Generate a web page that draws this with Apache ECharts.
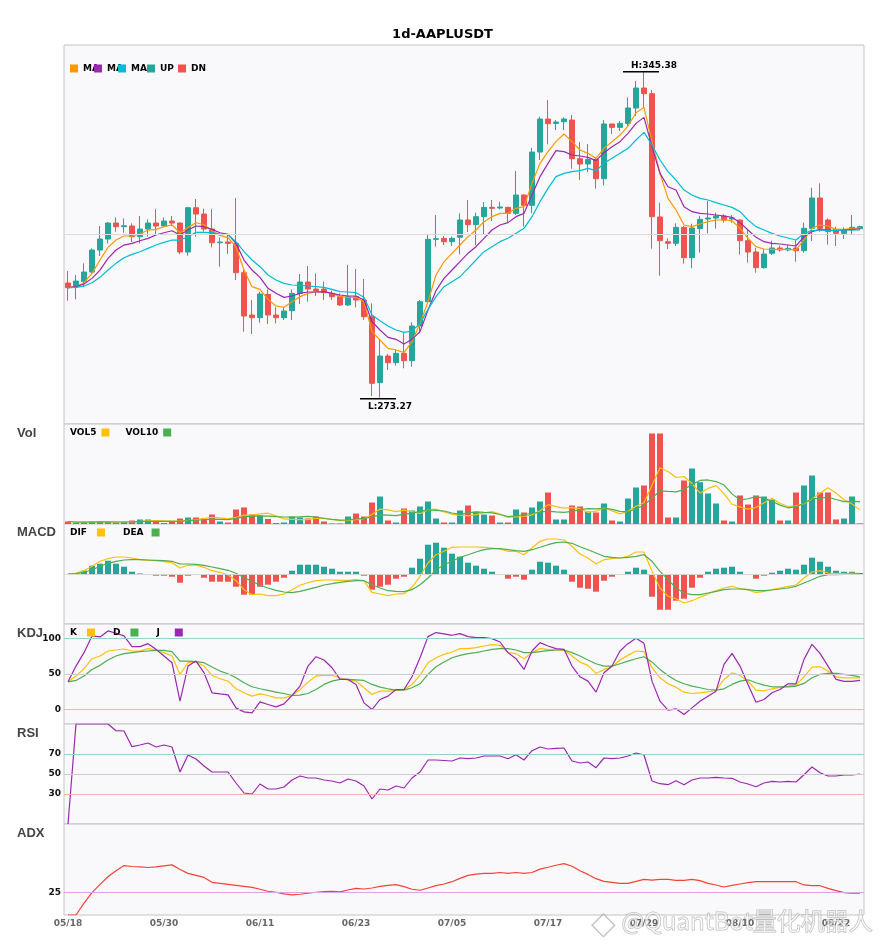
<!DOCTYPE html>
<html>
<head>
<meta charset="utf-8">
<title>1d-AAPLUSDT</title>
<script src="https://cdn.jsdelivr.net/npm/echarts@6/dist/echarts.min.js"></script>
<style>
  html, body { margin: 0; padding: 0; background: #fff; }
  #main { width: 885px; height: 950px; }
</style>
</head>
<body>
<div id="main"></div>
<script>
// daily candles 05/18 - 08/25
var dates = [
  '05/18','05/19','05/20','05/21','05/22','05/23','05/24','05/25','05/26','05/27','05/28','05/29','05/30','05/31',
  '06/01','06/02','06/03','06/04','06/05','06/06','06/07','06/08','06/09','06/10','06/11','06/12','06/13','06/14','06/15',
  '06/16','06/17','06/18','06/19','06/20','06/21','06/22','06/23','06/24','06/25','06/26','06/27','06/28','06/29','06/30',
  '07/01','07/02','07/03','07/04','07/05','07/06','07/07','07/08','07/09','07/10','07/11','07/12','07/13','07/14','07/15',
  '07/16','07/17','07/18','07/19','07/20','07/21','07/22','07/23','07/24','07/25','07/26','07/27','07/28','07/29','07/30','07/31',
  '08/01','08/02','08/03','08/04','08/05','08/06','08/07','08/08','08/09','08/10','08/11','08/12','08/13','08/14','08/15',
  '08/16','08/17','08/18','08/19','08/20','08/21','08/22','08/23','08/24','08/25'
];
var opens = [
  298.64, 297.83, 299.01, 301.07, 305.94, 308.37, 311.91, 311.10, 311.25, 308.89,
  310.58, 311.91, 311.25, 312.35, 311.91, 305.50, 315.30, 313.90, 310.58, 307.56,
  307.71, 307.41, 300.93, 291.56, 290.97, 296.13, 291.56, 290.97, 292.52, 296.36,
  298.86, 297.31, 297.31, 296.36, 295.62, 293.78, 295.62, 294.88, 291.19, 276.60,
  282.49, 281.02, 283.08, 281.46, 289.13, 294.51, 308.30, 308.52, 307.78, 308.75,
  312.58, 311.55, 313.32, 315.38, 315.24, 315.38, 314.06, 318.11, 315.83, 327.62,
  334.92, 333.96, 334.33, 334.70, 326.15, 324.97, 326.00, 321.72, 333.82, 333.08,
  333.96, 337.36, 341.78, 340.53, 313.25, 307.79, 307.42, 310.96, 304.25, 310.66,
  312.80, 313.03, 313.47, 312.80, 312.58, 308.01, 305.50, 302.04, 305.21, 306.39,
  305.95, 306.39, 305.80, 310.74, 317.45, 312.58, 310.52, 309.63, 310.37, 310.66
];
var closes = [
  297.61, 299.08, 301.07, 305.94, 308.37, 311.91, 311.10, 311.32, 308.89, 310.58,
  311.91, 311.25, 312.35, 311.91, 305.50, 315.30, 313.90, 310.58, 307.56, 307.71,
  307.41, 300.93, 291.34, 290.97, 296.21, 291.56, 290.97, 292.45, 296.36, 298.86,
  297.31, 296.95, 296.50, 295.62, 293.78, 295.62, 294.88, 291.19, 276.45, 282.49,
  281.02, 283.08, 281.46, 289.13, 294.51, 308.30, 308.45, 307.78, 308.52, 312.58,
  311.55, 313.32, 315.38, 315.16, 315.46, 314.06, 318.11, 315.83, 327.62, 334.92,
  333.89, 334.26, 334.92, 326.15, 324.97, 326.00, 321.72, 333.82, 333.08, 333.96,
  337.36, 341.78, 340.53, 313.32, 308.01, 307.42, 310.96, 304.25, 310.81, 312.73,
  313.03, 313.47, 312.58, 313.03, 308.01, 305.50, 302.04, 305.06, 306.39, 305.95,
  306.32, 305.80, 310.74, 317.45, 310.74, 310.00, 309.63, 310.37, 310.96, 311.11
];
var lows = [
  294.73, 295.03, 297.83, 300.78, 304.61, 307.41, 309.99, 309.77, 307.71, 307.41,
  308.89, 309.26, 311.10, 311.25, 305.05, 304.69, 308.89, 309.99, 306.53, 302.25,
  305.05, 299.30, 287.88, 287.36, 289.86, 289.57, 289.72, 290.46, 290.46, 293.99,
  294.51, 295.77, 294.88, 294.88, 293.55, 293.55, 293.26, 290.46, 273.65, 273.27,
  279.40, 280.36, 279.77, 280.14, 287.51, 294.51, 306.68, 307.05, 306.83, 304.99,
  309.93, 306.98, 309.49, 312.36, 314.94, 312.00, 313.69, 311.11, 314.06, 325.85,
  329.32, 332.49, 332.49, 323.94, 321.43, 323.20, 319.51, 320.25, 331.60, 332.27,
  333.37, 335.59, 337.50, 306.24, 300.27, 306.17, 306.83, 302.92, 301.89, 305.36,
  309.63, 310.66, 312.00, 312.00, 304.91, 303.15, 300.93, 301.82, 304.84, 305.58,
  305.65, 303.37, 305.36, 307.94, 310.00, 307.13, 306.83, 308.38, 309.26, 310.52
];
var highs = [
  301.29, 300.41, 302.99, 306.31, 311.25, 312.13, 313.16, 312.94, 311.84, 313.46,
  312.72, 315.01, 313.16, 313.46, 312.06, 315.52, 317.22, 315.08, 315.01, 308.74,
  309.33, 317.44, 301.52, 294.88, 296.72, 297.24, 293.26, 293.26, 297.24, 300.63,
  302.40, 300.78, 298.94, 296.95, 296.36, 302.62, 301.74, 299.53, 294.14, 286.03,
  282.94, 283.97, 287.73, 289.94, 294.88, 309.26, 313.68, 309.04, 308.89, 314.06,
  317.01, 314.21, 316.56, 317.01, 316.64, 315.53, 323.42, 318.26, 328.51, 335.44,
  339.13, 334.70, 335.29, 335.81, 329.83, 329.39, 326.37, 334.70, 333.82, 334.48,
  339.71, 343.33, 345.38, 341.34, 316.42, 308.53, 311.85, 311.25, 311.77, 313.54,
  316.79, 314.21, 313.84, 313.69, 312.73, 310.37, 306.46, 306.09, 308.01, 306.90,
  307.13, 308.16, 311.99, 319.74, 320.69, 312.95, 311.11, 310.96, 313.69, 311.33
];
var ma5 = [
  297.61, 297.83, 298.71, 300.78, 303.73, 306.53, 308.15, 309.04, 309.04, 309.48,
  310.36, 310.51, 311.10, 311.47, 309.77, 310.95, 311.98, 311.54, 310.21, 309.18,
  308.67, 306.68, 301.51, 297.83, 297.24, 295.03, 293.55, 293.26, 294.51, 295.62,
  296.36, 296.72, 296.65, 296.36, 295.62, 295.47, 295.47, 294.51, 287.88, 286.03,
  284.19, 283.82, 283.23, 285.67, 289.72, 294.51, 300.41, 303.36, 305.20, 307.05,
  308.89, 310.37, 312.21, 313.32, 314.06, 314.06, 315.16, 315.53, 320.69, 325.12,
  327.70, 329.91, 331.60, 329.91, 328.07, 327.33, 326.22, 328.43, 329.91, 331.38,
  333.37, 336.32, 337.50, 329.91, 322.90, 317.37, 314.79, 311.48, 311.11, 311.70,
  312.21, 312.58, 312.58, 312.43, 310.74, 308.53, 306.68, 306.17, 306.09, 306.09,
  306.09, 305.95, 308.16, 310.74, 311.48, 311.26, 310.52, 310.52, 310.67, 310.81
];
var ma10 = [
  297.61, 297.83, 298.42, 299.67, 301.51, 304.09, 305.94, 307.04, 307.41, 308.00,
  308.52, 309.26, 309.77, 310.21, 309.26, 310.36, 311.25, 311.10, 310.51, 309.77,
  309.40, 307.41, 303.73, 301.51, 299.89, 297.46, 296.36, 295.47, 295.77, 296.36,
  296.65, 296.65, 296.72, 296.36, 295.99, 295.77, 295.77, 294.88, 290.09, 288.25,
  286.62, 286.18, 285.15, 286.18, 287.88, 292.67, 296.95, 299.67, 301.52, 303.37,
  305.21, 306.68, 308.53, 310.37, 311.48, 312.00, 313.32, 314.06, 318.11, 322.17,
  325.12, 327.92, 327.70, 326.96, 326.74, 326.44, 325.71, 327.48, 328.80, 329.91,
  331.75, 333.96, 335.29, 328.80, 322.90, 319.95, 319.22, 315.53, 314.43, 314.06,
  313.91, 313.69, 313.47, 313.17, 312.00, 310.37, 308.75, 307.79, 307.42, 307.27,
  307.05, 306.83, 308.89, 310.00, 310.52, 310.37, 310.22, 310.37, 310.52, 310.59
];
var ma20 = [
  297.61, 297.68, 297.97, 298.71, 299.89, 301.51, 302.99, 304.24, 304.98, 305.57,
  306.31, 307.04, 307.63, 308.15, 308.15, 308.89, 309.85, 309.85, 309.77, 309.48,
  309.33, 307.78, 305.57, 303.73, 302.25, 300.41, 299.30, 298.57, 298.20, 298.13,
  297.98, 297.83, 297.68, 297.24, 296.72, 296.65, 296.50, 295.47, 291.56, 290.31,
  289.13, 288.25, 287.73, 288.02, 289.72, 292.82, 295.62, 297.83, 298.94, 300.05,
  301.89, 303.73, 305.58, 306.68, 307.79, 308.53, 309.63, 310.74, 313.32, 316.64,
  319.59, 322.17, 322.90, 323.27, 323.49, 324.01, 323.49, 325.12, 326.22, 327.33,
  328.43, 330.28, 331.97, 329.17, 325.85, 323.27, 321.43, 319.22, 318.11, 317.37,
  317.01, 316.42, 315.90, 315.38, 314.43, 312.58, 311.11, 310.37, 309.63, 309.04,
  308.60, 308.16, 309.63, 310.22, 310.37, 310.22, 310.22, 310.37, 310.37, 310.37
];
var volumes = [
  2.5, 1.5, 1.5, 2.5, 2.5, 2, 1.5, 2, 3.5, 4.5,
  4.5, 2.5, 1, 2.5, 5.5, 6.5, 6.5, 5.5, 9.5, 2.5,
  1.5, 14.5, 16.5, 9.5, 8.5, 5, 1, 1.5, 7.5, 6.5,
  5.5, 7.5, 2.5, 0.5, 0.5, 7.5, 10.5, 7.5, 21.5, 27.5,
  3.5, 1.5, 15.5, 13.5, 17.5, 22.5, 5.5, 1.5, 1.5, 13.5,
  18.5, 12.2, 9.5, 8.5, 1.5, 1.5, 14.5, 11.5, 16.5, 22.5,
  31.5, 4.5, 4.5, 18.5, 17.5, 12.5, 11.5, 20.5, 3.5, 2.5,
  25.5, 36.5, 38.5, 90.5, 90.5, 6.5, 6.5, 43.5, 55.5, 41.8,
  30.5, 20.5, 3.5, 2.5, 28.5, 19.5, 28.5, 27.5, 24.5, 3.5,
  3.5, 31.5, 38.5, 48.5, 31.5, 31.5, 4.5, 5.5, 27.5, 0.5
];
var vol5 = [
  2.5, 2.0, 1.83, 2.0, 2.1, 2.0, 2.0, 2.1, 2.3, 2.7,
  3.2, 3.4, 3.2, 3.0, 3.2, 3.6, 4.4, 5.3, 6.7, 6.1,
  5.1, 6.7, 8.9, 8.9, 10.1, 10.8, 8.1, 5.1, 4.7, 4.3,
  4.4, 5.7, 5.9, 4.5, 3.3, 3.7, 4.3, 5.3, 9.5, 14.9,
  14.1, 12.3, 13.9, 12.3, 10.3, 14.1, 14.9, 12.1, 9.7, 8.9,
  8.1, 9.44, 11.04, 12.44, 10.04, 6.64, 7.1, 7.5, 9.1, 13.3,
  19.3, 17.3, 15.9, 16.3, 15.3, 11.5, 12.9, 16.1, 13.1, 10.1,
  12.7, 17.7, 21.3, 38.7, 56.3, 52.5, 46.5, 47.5, 40.5, 30.76,
  35.56, 38.36, 30.36, 19.76, 17.1, 14.9, 16.5, 21.3, 25.7, 20.7,
  17.5, 18.1, 20.3, 25.1, 30.7, 36.3, 30.9, 24.3, 20.1, 13.9
];
var vol10 = [
  2.5, 2.0, 1.83, 2.0, 2.1, 2.08, 2.0, 2.0, 2.17, 2.4,
  2.6, 2.7, 2.65, 2.65, 2.95, 3.4, 3.9, 4.25, 4.85, 4.65,
  4.35, 5.55, 7.1, 7.8, 8.1, 7.95, 7.4, 7.0, 6.8, 7.2,
  7.6, 6.9, 5.5, 4.6, 3.8, 4.05, 5.0, 5.6, 7.0, 9.1,
  8.9, 8.3, 9.6, 10.9, 12.6, 14.1, 13.6, 13.0, 11.0, 9.6,
  11.1, 12.17, 11.57, 11.07, 9.47, 7.37, 8.27, 9.27, 10.77, 11.67,
  12.97, 12.2, 11.7, 12.7, 14.3, 15.4, 15.1, 16.0, 14.7, 12.7,
  12.1, 15.3, 18.7, 25.9, 33.2, 32.6, 32.1, 34.4, 39.6, 43.53,
  44.03, 42.43, 38.93, 30.13, 23.93, 25.23, 27.43, 25.83, 22.73, 18.9,
  16.2, 17.3, 20.8, 25.4, 25.7, 26.9, 24.5, 22.3, 22.6, 22.3
];
var dif = [
  0, 0.10, 0.33, 0.77, 1.27, 1.53, 1.70, 1.70, 1.60, 1.43,
  1.37, 1.33, 1.23, 1.13, 0.60, 0.87, 0.90, 0.67, 0.33, 0.17,
  -0.07, -0.67, -1.57, -2.07, -2.00, -2.17, -2.17, -2.00, -1.57, -1.13,
  -0.87, -0.67, -0.60, -0.60, -0.63, -0.63, -0.57, -0.67, -1.83, -2.00,
  -2.17, -2.00, -1.97, -1.33, -0.23, 1.10, 1.93, 2.27, 2.67, 2.70,
  2.70, 2.70, 2.67, 2.60, 2.50, 2.27, 2.27, 1.93, 2.60, 3.27,
  3.50, 3.50, 3.40, 2.77, 2.00, 1.60, 1.00, 1.43, 1.53, 1.60,
  1.77, 2.20, 2.20, 0.27, -1.40, -2.23, -2.47, -2.90, -2.67, -2.33,
  -2.00, -1.67, -1.40, -1.23, -1.47, -1.57, -1.87, -1.73, -1.57, -1.40,
  -1.23, -1.10, -0.40, 0.20, 0.33, 0.10, 0.03, 0.03, 0.07, 0.07
];
var dea = [
  0, 0.03, 0.17, 0.43, 0.77, 1.07, 1.27, 1.40, 1.43, 1.43,
  1.40, 1.37, 1.33, 1.27, 1.00, 1.00, 0.97, 0.87, 0.70, 0.53,
  0.37, 0.07, -0.37, -0.73, -1.13, -1.40, -1.63, -1.80, -1.87, -1.73,
  -1.53, -1.33, -1.10, -0.97, -0.83, -0.73, -0.67, -0.67, -1.07, -1.40,
  -1.67, -1.73, -1.77, -1.57, -1.07, -0.40, 0.40, 0.93, 1.27, 1.67,
  1.93, 2.20, 2.43, 2.53, 2.53, 2.43, 2.33, 2.27, 2.43, 2.67,
  2.93, 3.13, 3.20, 3.07, 2.73, 2.43, 2.10, 1.77, 1.67, 1.60,
  1.67, 1.77, 1.93, 1.27, 0.27, -0.57, -1.40, -1.90, -2.07, -2.07,
  -1.90, -1.73, -1.57, -1.50, -1.50, -1.57, -1.67, -1.67, -1.60, -1.50,
  -1.40, -1.23, -0.90, -0.57, -0.23, -0.07, -0.07, -0.03, 0.00, 0.03
];
var macdHist = [
  0, 0, 0.33, 0.83, 1.03, 1.33, 1.03, 0.73, 0.23, 0.05,
  -0.05, -0.17, -0.17, -0.27, -0.87, -0.17, -0.07, -0.37, -0.77, -0.77,
  -0.77, -1.27, -2.07, -2.07, -1.27, -1.07, -0.77, -0.37, 0.33, 0.93,
  0.93, 0.93, 0.73, 0.53, 0.23, 0.23, 0.23, -0.17, -1.57, -1.27,
  -1.07, -0.47, -0.27, 0.63, 1.53, 2.93, 3.13, 2.63, 2.03, 1.73,
  1.13, 0.83, 0.53, 0.23, -0.07, -0.47, -0.27, -0.57, 0.43, 1.23,
  1.13, 0.83, 0.43, -0.77, -1.37, -1.47, -1.77, -0.67, -0.27, -0.07,
  0.23, 0.63, 0.43, -2.27, -3.57, -3.57, -2.67, -2.47, -1.37, -0.37,
  0.23, 0.53, 0.63, 0.73, 0.23, -0.07, -0.47, -0.17, 0.13, 0.33,
  0.53, 0.43, 0.93, 1.63, 1.23, 0.73, 0.33, 0.23, 0.23, 0.10
];
var kLine = [
  39.1, 47.1, 57.4, 71.4, 75.2, 82.2, 83.6, 85.0, 82.2, 82.2,
  85.5, 83.6, 79.9, 75.2, 49.4, 65.8, 66.7, 61.1, 48.0, 43.3,
  40.0, 29.3, 23.7, 19.0, 22.2, 19.9, 16.6, 16.6, 19.9, 28.3,
  38.6, 47.1, 48.5, 48.0, 44.7, 41.5, 40.0, 30.7, 21.3, 26.0,
  26.0, 26.9, 28.3, 35.4, 48.0, 65.8, 72.8, 77.5, 80.8, 85.5,
  85.5, 86.9, 89.2, 91.1, 90.2, 79.9, 78.5, 71.4, 79.9, 85.5,
  84.5, 83.6, 83.6, 75.2, 66.7, 62.1, 50.8, 56.4, 60.2, 69.6,
  76.1, 82.2, 81.3, 58.8, 44.7, 36.3, 31.6, 24.6, 22.7, 23.7,
  25.1, 26.9, 42.4, 51.8, 48.0, 40.0, 27.4, 26.5, 29.3, 31.1,
  33.0, 34.4, 46.1, 59.7, 60.2, 54.1, 46.1, 44.7, 44.7, 44.7
];
var dLine = [
  39.1, 41.0, 47.1, 56.4, 62.1, 69.6, 75.2, 78.5, 79.9, 81.3,
  82.2, 83.1, 83.1, 81.3, 68.1, 68.1, 67.2, 65.8, 59.7, 54.1,
  50.4, 44.7, 37.7, 32.1, 29.3, 27.0, 24.6, 22.7, 19.9, 20.4,
  22.7, 28.3, 35.4, 40.0, 42.4, 42.4, 41.9, 41.0, 35.4, 31.6,
  29.3, 27.4, 27.4, 30.7, 36.3, 49.5, 60.2, 66.7, 72.8, 76.1,
  78.5, 79.9, 82.2, 84.5, 85.5, 85.5, 83.6, 79.9, 79.9, 81.3,
  82.7, 83.6, 83.6, 79.9, 75.2, 69.6, 64.4, 61.1, 61.1, 64.4,
  68.1, 71.4, 74.2, 66.7, 56.4, 48.0, 41.0, 36.3, 33.0, 30.7,
  28.3, 27.4, 29.3, 35.4, 40.0, 41.9, 37.7, 34.4, 32.1, 32.1,
  32.1, 33.0, 36.8, 44.7, 49.4, 50.8, 50.8, 49.4, 48.0, 46.1
];
var jLine = [
  39.1, 61.1, 79.9, 103.3, 101.9, 110.3, 107.0, 103.3, 88.3, 88.3,
  92.5, 84.5, 75.2, 65.8, 11.9, 61.1, 68.1, 51.8, 23.7, 22.2,
  20.8, 2.6, -3.0, -4.4, 11.0, 7.3, 4.0, 8.2, 19.9, 33.0,
  61.1, 74.2, 69.6, 58.8, 42.4, 42.4, 35.4, 9.6, 0.2, 14.3,
  19.0, 28.3, 28.3, 46.1, 72.8, 102.3, 108.0, 106.1, 104.2, 106.6,
  102.3, 100.9, 100.9, 99.5, 94.8, 79.9, 71.4, 56.4, 82.2, 93.9,
  89.2, 85.5, 84.5, 61.1, 46.1, 40.0, 24.6, 51.8, 61.1, 82.2,
  92.5, 100.0, 93.0, 40.0, 11.9, -0.7, 1.2, -6.8, 2.6, 11.9,
  19.0, 26.0, 63.5, 78.9, 61.1, 35.4, 10.5, 14.3, 23.7, 28.3,
  36.3, 36.3, 70.5, 91.6, 78.9, 61.1, 42.4, 39.6, 39.6, 41.0
];
var rsi = [
  0, 100, 100, 100, 100, 100, 93.3, 93.0, 77.3, 79.0,
  81.0, 77.0, 79.0, 77.0, 52.0, 69.0, 65.0, 58.0, 52.0, 52.0,
  52.0, 41.0, 31.0, 30.0, 40.0, 35.0, 35.0, 37.0, 44.0, 48.0,
  46.0, 46.0, 44.0, 43.0, 41.0, 45.0, 43.0, 38.0, 25.0, 35.0,
  34.0, 38.0, 36.0, 46.0, 52.0, 64.0, 64.0, 63.5, 63.0, 66.0,
  65.3, 66.0, 68.0, 68.0, 68.0, 65.3, 69.3, 64.0, 73.3, 77.0,
  75.0, 75.7, 76.0, 63.0, 61.0, 62.0, 56.3, 66.0, 65.3, 66.0,
  68.0, 71.0, 69.0, 43.0, 40.3, 39.3, 43.3, 39.3, 44.0, 46.0,
  46.0, 46.7, 46.0, 45.7, 42.0, 40.0, 37.3, 41.0, 42.7, 42.0,
  42.7, 42.0, 49.3, 57.0, 51.3, 48.0, 48.0, 49.0, 49.0, 50.0
];
var adx = [
  0, 0, 13.0, 24.6, 33.7, 42.0, 48.6, 54.3, 53.3, 52.9,
  52.2, 52.9, 54.0, 55.1, 50.0, 45.7, 43.5, 41.3, 35.9, 34.8,
  33.7, 32.6, 31.5, 30.4, 28.3, 26.1, 25.0, 23.2, 22.1, 22.8,
  23.9, 25.0, 25.7, 26.1, 25.4, 27.5, 29.3, 28.6, 29.7, 31.5,
  32.6, 33.3, 31.2, 28.3, 27.2, 29.7, 32.2, 34.1, 36.6, 40.2,
  43.5, 44.9, 45.7, 45.7, 46.7, 45.7, 46.7, 45.7, 46.7, 50.4,
  52.5, 54.7, 56.5, 53.6, 48.6, 44.6, 39.9, 37.0, 35.9, 34.8,
  34.8, 37.0, 39.1, 38.4, 39.1, 39.1, 38.0, 38.0, 39.1, 37.7,
  34.8, 33.0, 30.8, 32.6, 34.1, 35.5, 36.6, 36.6, 36.6, 36.6,
  36.6, 36.6, 33.0, 32.2, 32.2, 29.3, 26.8, 24.6, 23.9, 23.9
];

var UP = '#26A69A', DN = '#EF5350';
var C_MA5 = '#FF9800', C_MA10 = '#9C27B0', C_MA20 = '#00BCD4';
var C_YEL = '#FFC107', C_GRN = '#4CAF50', C_PUR = '#9C27B0';
var priceMin = 267.45, priceMax = 351.3;

var candles = dates.map(function (d, i) {
    return [opens[i], closes[i], lows[i], highs[i]];
});

var myChart = echarts.init(document.getElementById('main'));

var panelTops = [45, 424, 524, 624, 724, 824];
var panelHeights = [379, 100, 100, 100, 100, 91];
var grids = panelTops.map(function (t, i) {
    return {
        left: 64, right: 21, top: t, height: panelHeights[i],
        show: true, backgroundColor: '#f9f9fb',
        borderColor: '#c4c4c8', borderWidth: 1
    };
});
var xAxes = panelTops.map(function (t, i) {
    var last = i === panelTops.length - 1;
    return {
        type: 'category', gridIndex: i, data: dates, boundaryGap: true,
        axisLine: {show: false}, axisTick: {show: false}, splitLine: {show: false},
        axisLabel: last ? {
            show: true, interval: 11, fontSize: 9, fontWeight: 'bold',
            color: '#666', margin: 4, fontFamily: 'DejaVu Sans'
        } : {show: false}
    };
});

function levelAxis(idx, min, max, interval, shown) {
    return {
        type: 'value', gridIndex: idx, min: min, max: max, interval: interval,
        axisLine: {show: false}, axisTick: {show: false}, splitLine: {show: false},
        axisLabel: {
            fontSize: 9, fontWeight: 'bold', color: '#111', margin: 3,
            fontFamily: 'DejaVu Sans',
            formatter: function (v) { return shown.indexOf(v) >= 0 ? String(v) : ''; }
        }
    };
}
var yAxes = [
    {type: 'value', gridIndex: 0, min: priceMin, max: priceMax, show: false},
    {type: 'value', gridIndex: 1, min: 0, max: 100, show: false},
    {type: 'value', gridIndex: 2, min: -5, max: 5, show: false},
    levelAxis(3, -20, 120, 10, [0, 50, 100]),
    levelAxis(4, 0, 100, 10, [30, 50, 70]),
    levelAxis(5, 0, 100, 25, [25])
];

function line(name, data, color, xi) {
    return {
        name: name, type: 'line', xAxisIndex: xi, yAxisIndex: xi, data: data,
        symbol: 'none', smooth: false, z: 3,
        lineStyle: {color: color, width: 1.2}, itemStyle: {color: color}
    };
}
function levels(items) {
    return {
        silent: true, symbol: ['none', 'none'], label: {show: false},
        lineStyle: {type: 'solid', width: 1},
        data: items.map(function (it) {
            return {yAxis: it[0], lineStyle: {color: it[1], type: 'solid', width: 1}};
        })
    };
}

var legText = {fontSize: 9, fontWeight: 'bold', color: '#000', fontFamily: 'DejaVu Sans'};
var cut = {width: 17, overflow: 'truncate', ellipsis: ''};
function mainLegend(name, left, color, truncate) {
    var item = {name: name, itemStyle: {color: color, borderWidth: 0}};
    if (truncate) item.textStyle = cut;
    return {
        left: left, top: 64, padding: 0, icon: 'rect', itemWidth: 8, itemHeight: 8,
        selectedMode: false, textStyle: legText, data: [item]
    };
}
function subLegend(top, names, pads, gap) {
    return {
        left: 70, top: top, padding: 0, icon: 'rect', itemWidth: 8, itemHeight: 8,
        align: 'right', itemGap: gap, selectedMode: false, textStyle: legText,
        itemStyle: {borderWidth: 0},
        data: names.map(function (n, i) {
            return {name: n, textStyle: {padding: [0, pads[i], 0, 0]}};
        })
    };
}

var option = {
    animation: false,
    backgroundColor: '#ffffff',
    textStyle: {fontFamily: 'DejaVu Sans'},
    title: {
        text: '1d-AAPLUSDT', left: 'center', top: 28, padding: 0,
        textStyle: {fontSize: 13, fontWeight: 'bold', color: '#000', fontFamily: 'DejaVu Sans'}
    },
    legend: [
        mainLegend('MA5', 70, C_MA5, true),
        mainLegend('MA10', 94, C_MA10, true),
        mainLegend('MA20', 118, C_MA20, true),
        mainLegend('UP', 147, UP, false),
        mainLegend('DN', 178, DN, false),
        subLegend(428, ['VOL5', 'VOL10'], [0, 0], 16),
        subLegend(528, ['DIF', 'DEA'], [5, 3], 18),
        subLegend(628, ['K', 'D', 'J'], [5, 5, 10], 18)
    ],
    grid: grids,
    xAxis: xAxes,
    yAxis: yAxes,
    graphic: [
        {type: 'text', left: 17, top: 427, style: {text: 'Vol', fontSize: 13, fontWeight: 'bold', fontFamily: 'Liberation Sans', fill: '#444'}},
        {type: 'text', left: 17, top: 526, style: {text: 'MACD', fontSize: 13, fontWeight: 'bold', fontFamily: 'Liberation Sans', fill: '#444'}},
        {type: 'text', left: 17, top: 627, style: {text: 'KDJ', fontSize: 13, fontWeight: 'bold', fontFamily: 'Liberation Sans', fill: '#444'}},
        {type: 'text', left: 17, top: 727, style: {text: 'RSI', fontSize: 13, fontWeight: 'bold', fontFamily: 'Liberation Sans', fill: '#444'}},
        {type: 'text', left: 17, top: 827, style: {text: 'ADX', fontSize: 13, fontWeight: 'bold', fontFamily: 'Liberation Sans', fill: '#444'}},
        {type: 'rect', left: 591, top: 913, rotation: Math.PI / 4, z: 100,
         shape: {width: 16, height: 16},
         style: {fill: 'rgba(255,255,255,0.4)', stroke: 'rgba(150,150,150,0.55)', lineWidth: 1.5}},
        {type: 'text', left: 621, top: 908, z: 100,
         style: {text: '@QuantBot量化机器人', fontSize: 24, fontFamily: 'Noto Sans CJK SC',
                 fill: 'rgba(255,255,255,0.55)', stroke: 'rgba(140,140,140,0.6)', lineWidth: 1}}
    ],
    series: [
        {
            name: 'UP', type: 'candlestick', xAxisIndex: 0, yAxisIndex: 0,
            data: candles, barWidth: 5,
            itemStyle: {color: UP, color0: DN, borderColor: UP, borderColor0: DN, borderWidth: 1},
            markLine: {
                silent: true, symbol: ['none', 'none'], label: {show: false},
                lineStyle: {color: '#dadada', type: 'solid', width: 1},
                data: [{yAxis: (priceMin + priceMax) / 2}]
            },
            markPoint: {
                symbol: 'rect', symbolSize: [36, 1.5],
                itemStyle: {color: '#000'},
                label: {show: true, color: '#000', fontSize: 9, fontWeight: 'bold', fontFamily: 'DejaVu Sans'},
                data: [
                    {type: 'max', valueDim: 'highest', symbolOffset: [-3, 0],
                     label: {position: 'top', distance: 1, offset: [13, 0],
                             formatter: function (p) { return 'H:' + Number(p.value).toFixed(2); }}},
                    {type: 'min', valueDim: 'lowest', symbolOffset: [-2, 1],
                     label: {position: 'bottom', distance: 3, offset: [12, 0],
                             formatter: function (p) { return 'L:' + Number(p.value).toFixed(2); }}}
                ]
            }
        },
        {name: 'DN', type: 'candlestick', xAxisIndex: 0, yAxisIndex: 0, data: [],
         itemStyle: {color: DN, color0: DN, borderColor: DN, borderColor0: DN}},
        line('MA5', ma5, C_MA5, 0),
        line('MA10', ma10, C_MA10, 0),
        line('MA20', ma20, C_MA20, 0),
        {
            name: 'Volume', type: 'bar', xAxisIndex: 1, yAxisIndex: 1, data: volumes, barWidth: 6,
            itemStyle: {color: function (p) { return closes[p.dataIndex] >= opens[p.dataIndex] ? UP : DN; }}
        },
        line('VOL5', vol5, C_YEL, 1),
        line('VOL10', vol10, C_GRN, 1),
        {
            name: 'MACD', type: 'bar', xAxisIndex: 2, yAxisIndex: 2, data: macdHist, barWidth: 6,
            itemStyle: {color: function (p) { return p.value >= 0 ? UP : DN; }},
            markLine: levels([[0, '#d6d6d6']])
        },
        line('DIF', dif, C_YEL, 2),
        line('DEA', dea, C_GRN, 2),
        (function () {
            var s = line('K', kLine, C_YEL, 3);
            s.markLine = levels([[100, '#93d3cc'], [50, '#cccccc'], [0, '#f5b3ae']]);
            return s;
        })(),
        line('D', dLine, C_GRN, 3),
        line('J', jLine, C_PUR, 3),
        (function () {
            var s = line('RSI', rsi, C_PUR, 4);
            s.markLine = levels([[70, '#93d3cc'], [50, '#cccccc'], [30, '#f5b3ae']]);
            return s;
        })(),
        (function () {
            var s = line('ADX', adx, '#F44336', 5);
            s.markLine = levels([[25, '#dba4e4']]);
            return s;
        })()
    ]
};

myChart.setOption(option);
</script>
</body>
</html>
